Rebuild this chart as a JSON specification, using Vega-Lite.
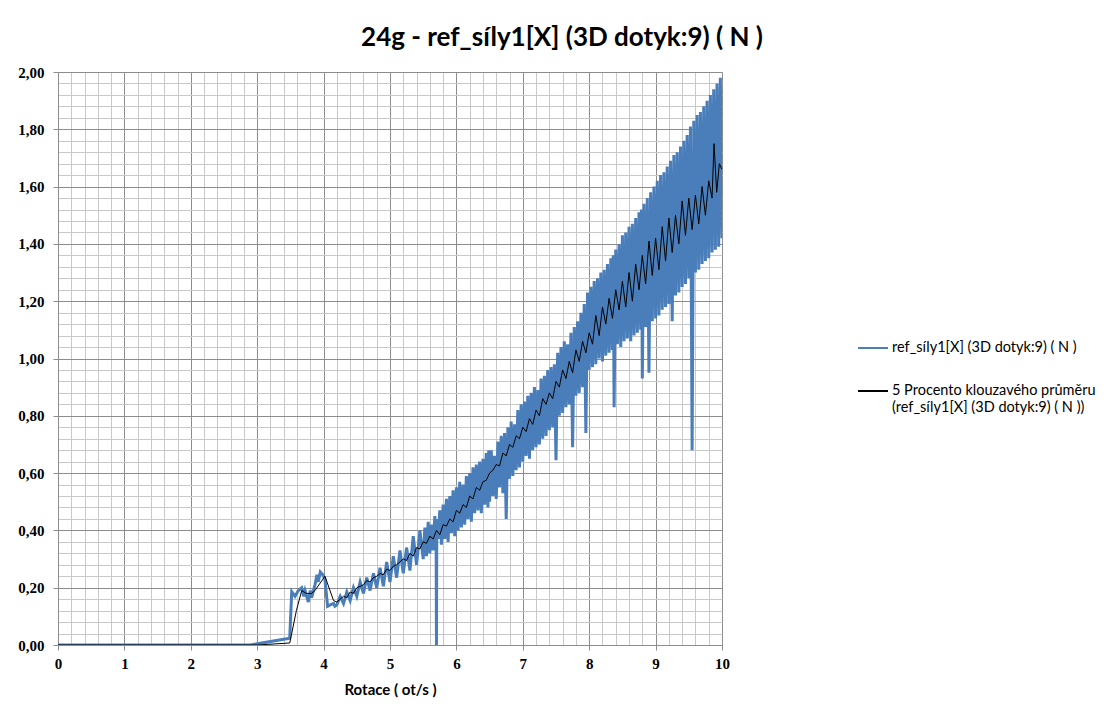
{
  "$schema": "https://vega.github.io/schema/vega-lite/v6.json",
  "width": 664,
  "height": 573,
  "autosize": {"type": "none"},
  "padding": {"left": 58, "top": 72, "right": 387, "bottom": 68},
  "background": "white",
  "config": {"view": {"stroke": null}},
  "title": {
    "text": "24g - ref_síly1[X] (3D dotyk:9) ( N )",
    "font": "Lato",
    "fontSize": 26,
    "fontWeight": "bold",
    "color": "#000000",
    "anchor": "middle",
    "dx": 172,
    "offset": 14
  },
  "datasets": {
    "ref": [
      {"x": 0, "y": 0}, {"x": 2.9, "y": 0}, {"x": 3.49, "y": 0.024}, {"x": 3.52, "y": 0.186}, {"x": 3.57, "y": 0.17},
      {"x": 3.62, "y": 0.19}, {"x": 3.67, "y": 0.2}, {"x": 3.7, "y": 0.17}, {"x": 3.72, "y": 0.19}, {"x": 3.77, "y": 0.15},
      {"x": 3.8, "y": 0.19}, {"x": 3.82, "y": 0.165}, {"x": 3.87, "y": 0.21}, {"x": 3.9, "y": 0.245}, {"x": 3.92, "y": 0.22},
      {"x": 3.95, "y": 0.255}, {"x": 3.99, "y": 0.245}, {"x": 4.02, "y": 0.23}, {"x": 4.06, "y": 0.135}, {"x": 4.1, "y": 0.14},
      {"x": 4.15, "y": 0.145}, {"x": 4.17, "y": 0.135}, {"x": 4.2, "y": 0.14}, {"x": 4.25, "y": 0.17}, {"x": 4.3, "y": 0.145},
      {"x": 4.35, "y": 0.185}, {"x": 4.4, "y": 0.155}, {"x": 4.45, "y": 0.2}, {"x": 4.5, "y": 0.17}, {"x": 4.55, "y": 0.22},
      {"x": 4.6, "y": 0.18}, {"x": 4.65, "y": 0.235}, {"x": 4.7, "y": 0.19}, {"x": 4.75, "y": 0.25}, {"x": 4.8, "y": 0.2},
      {"x": 4.85, "y": 0.27}, {"x": 4.9, "y": 0.205}, {"x": 4.95, "y": 0.29}, {"x": 5.0, "y": 0.22}, {"x": 5.05, "y": 0.31},
      {"x": 5.1, "y": 0.235}, {"x": 5.15, "y": 0.33}, {"x": 5.2, "y": 0.25}, {"x": 5.25, "y": 0.34}, {"x": 5.3, "y": 0.26},
      {"x": 5.35, "y": 0.38}, {"x": 5.4, "y": 0.28}, {"x": 5.45, "y": 0.4}, {"x": 5.5, "y": 0.3}, {"x": 5.525, "y": 0.41},
      {"x": 5.55, "y": 0.31}, {"x": 5.575, "y": 0.43}, {"x": 5.6, "y": 0.32}, {"x": 5.625, "y": 0.42}, {"x": 5.65, "y": 0.33},
      {"x": 5.675, "y": 0.45}, {"x": 5.695, "y": 0.36}, {"x": 5.7, "y": 0.0}, {"x": 5.705, "y": 0.44}, {"x": 5.725, "y": 0.37},
      {"x": 5.75, "y": 0.47}, {"x": 5.775, "y": 0.35}, {"x": 5.8, "y": 0.49}, {"x": 5.825, "y": 0.37}, {"x": 5.85, "y": 0.51},
      {"x": 5.875, "y": 0.36}, {"x": 5.9, "y": 0.52}, {"x": 5.925, "y": 0.39}, {"x": 5.95, "y": 0.54}, {"x": 5.975, "y": 0.38},
      {"x": 6.0, "y": 0.55}, {"x": 6.025, "y": 0.4}, {"x": 6.05, "y": 0.57}, {"x": 6.075, "y": 0.41}, {"x": 6.1, "y": 0.56},
      {"x": 6.125, "y": 0.42}, {"x": 6.15, "y": 0.59}, {"x": 6.175, "y": 0.44}, {"x": 6.2, "y": 0.6}, {"x": 6.225, "y": 0.43},
      {"x": 6.25, "y": 0.62}, {"x": 6.275, "y": 0.46}, {"x": 6.3, "y": 0.63}, {"x": 6.325, "y": 0.47}, {"x": 6.35, "y": 0.64},
      {"x": 6.375, "y": 0.46}, {"x": 6.4, "y": 0.65}, {"x": 6.425, "y": 0.49}, {"x": 6.45, "y": 0.67}, {"x": 6.475, "y": 0.48},
      {"x": 6.487, "y": 0.68}, {"x": 6.5, "y": 0.5}, {"x": 6.525, "y": 0.68}, {"x": 6.55, "y": 0.52}, {"x": 6.575, "y": 0.66},
      {"x": 6.6, "y": 0.51}, {"x": 6.625, "y": 0.71}, {"x": 6.65, "y": 0.55}, {"x": 6.675, "y": 0.73}, {"x": 6.7, "y": 0.53},
      {"x": 6.725, "y": 0.74}, {"x": 6.75, "y": 0.44}, {"x": 6.775, "y": 0.76}, {"x": 6.8, "y": 0.58}, {"x": 6.825, "y": 0.78},
      {"x": 6.85, "y": 0.59}, {"x": 6.875, "y": 0.77}, {"x": 6.9, "y": 0.61}, {"x": 6.925, "y": 0.82}, {"x": 6.95, "y": 0.62},
      {"x": 6.975, "y": 0.84}, {"x": 7.0, "y": 0.64}, {"x": 7.025, "y": 0.85}, {"x": 7.05, "y": 0.66}, {"x": 7.075, "y": 0.87},
      {"x": 7.1, "y": 0.65}, {"x": 7.125, "y": 0.88}, {"x": 7.15, "y": 0.68}, {"x": 7.175, "y": 0.9}, {"x": 7.2, "y": 0.69},
      {"x": 7.225, "y": 0.89}, {"x": 7.25, "y": 0.7}, {"x": 7.275, "y": 0.93}, {"x": 7.3, "y": 0.72}, {"x": 7.325, "y": 0.94},
      {"x": 7.35, "y": 0.73}, {"x": 7.375, "y": 0.96}, {"x": 7.4, "y": 0.75}, {"x": 7.425, "y": 0.97}, {"x": 7.45, "y": 0.76},
      {"x": 7.475, "y": 0.98}, {"x": 7.5, "y": 0.645}, {"x": 7.525, "y": 1.02}, {"x": 7.55, "y": 0.8}, {"x": 7.575, "y": 1.04},
      {"x": 7.6, "y": 0.81}, {"x": 7.625, "y": 1.06}, {"x": 7.65, "y": 0.83}, {"x": 7.675, "y": 1.05}, {"x": 7.7, "y": 0.84},
      {"x": 7.725, "y": 1.09}, {"x": 7.75, "y": 0.69}, {"x": 7.775, "y": 1.11}, {"x": 7.8, "y": 0.87}, {"x": 7.825, "y": 1.13},
      {"x": 7.85, "y": 0.88}, {"x": 7.875, "y": 1.16}, {"x": 7.9, "y": 0.9}, {"x": 7.925, "y": 1.19}, {"x": 7.95, "y": 0.74},
      {"x": 7.975, "y": 1.23}, {"x": 8.0, "y": 0.96}, {"x": 8.025, "y": 1.25}, {"x": 8.05, "y": 0.97}, {"x": 8.075, "y": 1.27},
      {"x": 8.1, "y": 0.98}, {"x": 8.125, "y": 1.28}, {"x": 8.15, "y": 1.0}, {"x": 8.175, "y": 1.3}, {"x": 8.2, "y": 0.99},
      {"x": 8.225, "y": 1.31}, {"x": 8.25, "y": 1.01}, {"x": 8.275, "y": 1.33}, {"x": 8.3, "y": 1.02}, {"x": 8.325, "y": 1.35},
      {"x": 8.35, "y": 1.03}, {"x": 8.362, "y": 1.36}, {"x": 8.375, "y": 0.83}, {"x": 8.4, "y": 1.38}, {"x": 8.425, "y": 1.05},
      {"x": 8.45, "y": 1.4}, {"x": 8.475, "y": 1.04}, {"x": 8.5, "y": 1.43}, {"x": 8.525, "y": 1.06}, {"x": 8.55, "y": 1.44},
      {"x": 8.575, "y": 1.07}, {"x": 8.6, "y": 1.46}, {"x": 8.625, "y": 1.06}, {"x": 8.65, "y": 1.47}, {"x": 8.675, "y": 1.08},
      {"x": 8.7, "y": 1.49}, {"x": 8.725, "y": 1.09}, {"x": 8.75, "y": 1.51}, {"x": 8.775, "y": 1.1}, {"x": 8.787, "y": 1.52},
      {"x": 8.8, "y": 0.93}, {"x": 8.825, "y": 1.54}, {"x": 8.85, "y": 1.11}, {"x": 8.875, "y": 1.56}, {"x": 8.9, "y": 0.95},
      {"x": 8.925, "y": 1.58}, {"x": 8.95, "y": 1.13}, {"x": 8.975, "y": 1.6}, {"x": 9.0, "y": 1.14}, {"x": 9.025, "y": 1.62},
      {"x": 9.05, "y": 1.15}, {"x": 9.075, "y": 1.64}, {"x": 9.1, "y": 1.17}, {"x": 9.125, "y": 1.65}, {"x": 9.15, "y": 1.18},
      {"x": 9.175, "y": 1.67}, {"x": 9.2, "y": 1.19}, {"x": 9.225, "y": 1.69}, {"x": 9.25, "y": 1.13}, {"x": 9.275, "y": 1.71},
      {"x": 9.3, "y": 1.22}, {"x": 9.325, "y": 1.72}, {"x": 9.35, "y": 1.23}, {"x": 9.375, "y": 1.74}, {"x": 9.4, "y": 1.25},
      {"x": 9.425, "y": 1.76}, {"x": 9.45, "y": 1.26}, {"x": 9.475, "y": 1.78}, {"x": 9.5, "y": 1.28}, {"x": 9.525, "y": 1.81},
      {"x": 9.55, "y": 0.68}, {"x": 9.575, "y": 1.83}, {"x": 9.6, "y": 1.3}, {"x": 9.625, "y": 1.85}, {"x": 9.65, "y": 1.31},
      {"x": 9.675, "y": 1.86}, {"x": 9.7, "y": 1.33}, {"x": 9.725, "y": 1.88}, {"x": 9.75, "y": 1.34}, {"x": 9.775, "y": 1.9},
      {"x": 9.8, "y": 1.35}, {"x": 9.825, "y": 1.92}, {"x": 9.85, "y": 1.37}, {"x": 9.875, "y": 1.94}, {"x": 9.9, "y": 1.38},
      {"x": 9.925, "y": 1.96}, {"x": 9.95, "y": 1.39}, {"x": 9.975, "y": 1.98}, {"x": 10.0, "y": 1.42}
    ],
    "avg": [
      {"x": 0, "y": 0}, {"x": 3.0, "y": 0}, {"x": 3.49, "y": 0.007}, {"x": 3.59, "y": 0.12}, {"x": 3.67, "y": 0.19},
      {"x": 3.74, "y": 0.18}, {"x": 3.82, "y": 0.18}, {"x": 3.87, "y": 0.19}, {"x": 4.02, "y": 0.24}, {"x": 4.15, "y": 0.155},
      {"x": 4.2, "y": 0.15}, {"x": 4.25, "y": 0.16}, {"x": 4.3, "y": 0.17}, {"x": 4.35, "y": 0.165}, {"x": 4.4, "y": 0.185},
      {"x": 4.45, "y": 0.18}, {"x": 4.5, "y": 0.2}, {"x": 4.55, "y": 0.205}, {"x": 4.6, "y": 0.21}, {"x": 4.65, "y": 0.225},
      {"x": 4.7, "y": 0.22}, {"x": 4.75, "y": 0.235}, {"x": 4.8, "y": 0.24}, {"x": 4.85, "y": 0.25}, {"x": 4.9, "y": 0.245},
      {"x": 4.95, "y": 0.265}, {"x": 5.0, "y": 0.26}, {"x": 5.05, "y": 0.275}, {"x": 5.1, "y": 0.28}, {"x": 5.15, "y": 0.29},
      {"x": 5.2, "y": 0.3}, {"x": 5.25, "y": 0.295}, {"x": 5.3, "y": 0.32}, {"x": 5.35, "y": 0.31}, {"x": 5.4, "y": 0.34},
      {"x": 5.45, "y": 0.335}, {"x": 5.5, "y": 0.36}, {"x": 5.55, "y": 0.355}, {"x": 5.6, "y": 0.38}, {"x": 5.65, "y": 0.37},
      {"x": 5.7, "y": 0.4}, {"x": 5.75, "y": 0.385}, {"x": 5.8, "y": 0.42}, {"x": 5.85, "y": 0.415}, {"x": 5.9, "y": 0.44},
      {"x": 5.95, "y": 0.43}, {"x": 6.0, "y": 0.47}, {"x": 6.05, "y": 0.46}, {"x": 6.1, "y": 0.49}, {"x": 6.15, "y": 0.48},
      {"x": 6.2, "y": 0.52}, {"x": 6.25, "y": 0.51}, {"x": 6.3, "y": 0.55}, {"x": 6.35, "y": 0.54}, {"x": 6.4, "y": 0.57},
      {"x": 6.45, "y": 0.575}, {"x": 6.5, "y": 0.6}, {"x": 6.55, "y": 0.61}, {"x": 6.6, "y": 0.63}, {"x": 6.65, "y": 0.625},
      {"x": 6.7, "y": 0.67}, {"x": 6.75, "y": 0.66}, {"x": 6.8, "y": 0.7}, {"x": 6.85, "y": 0.69}, {"x": 6.9, "y": 0.73},
      {"x": 6.95, "y": 0.72}, {"x": 7.0, "y": 0.76}, {"x": 7.05, "y": 0.745}, {"x": 7.1, "y": 0.79}, {"x": 7.15, "y": 0.77},
      {"x": 7.2, "y": 0.82}, {"x": 7.25, "y": 0.8}, {"x": 7.3, "y": 0.86}, {"x": 7.35, "y": 0.84}, {"x": 7.4, "y": 0.88},
      {"x": 7.45, "y": 0.86}, {"x": 7.5, "y": 0.92}, {"x": 7.55, "y": 0.9}, {"x": 7.6, "y": 0.96}, {"x": 7.65, "y": 0.93},
      {"x": 7.7, "y": 0.99}, {"x": 7.75, "y": 0.95}, {"x": 7.8, "y": 1.03}, {"x": 7.85, "y": 0.99}, {"x": 7.9, "y": 1.06},
      {"x": 7.95, "y": 1.02}, {"x": 8.0, "y": 1.09}, {"x": 8.05, "y": 1.05}, {"x": 8.1, "y": 1.15}, {"x": 8.15, "y": 1.08},
      {"x": 8.2, "y": 1.18}, {"x": 8.25, "y": 1.12}, {"x": 8.3, "y": 1.21}, {"x": 8.35, "y": 1.14}, {"x": 8.4, "y": 1.24},
      {"x": 8.45, "y": 1.17}, {"x": 8.5, "y": 1.27}, {"x": 8.55, "y": 1.18}, {"x": 8.6, "y": 1.3}, {"x": 8.65, "y": 1.2},
      {"x": 8.7, "y": 1.33}, {"x": 8.75, "y": 1.24}, {"x": 8.8, "y": 1.36}, {"x": 8.85, "y": 1.26}, {"x": 8.9, "y": 1.41},
      {"x": 8.95, "y": 1.29}, {"x": 9.0, "y": 1.42}, {"x": 9.05, "y": 1.31}, {"x": 9.1, "y": 1.46}, {"x": 9.15, "y": 1.34},
      {"x": 9.2, "y": 1.49}, {"x": 9.25, "y": 1.37}, {"x": 9.3, "y": 1.5}, {"x": 9.35, "y": 1.4}, {"x": 9.4, "y": 1.55},
      {"x": 9.45, "y": 1.43}, {"x": 9.5, "y": 1.56}, {"x": 9.55, "y": 1.45}, {"x": 9.6, "y": 1.57}, {"x": 9.65, "y": 1.47},
      {"x": 9.7, "y": 1.6}, {"x": 9.75, "y": 1.5}, {"x": 9.8, "y": 1.62}, {"x": 9.85, "y": 1.56}, {"x": 9.88, "y": 1.75},
      {"x": 9.92, "y": 1.58}, {"x": 9.96, "y": 1.68}, {"x": 10.0, "y": 1.66}
    ]
  },
  "encoding": {
    "x": {
      "field": "x", "type": "quantitative",
      "scale": {"domain": [0, 10], "nice": false, "zero": false},
      "axis": {
        "values": [0, 0.2, 0.4, 0.6, 0.8, 1, 1.2, 1.4, 1.6, 1.8, 2, 2.2, 2.4, 2.6, 2.8, 3, 3.2, 3.4, 3.6, 3.8, 4, 4.2, 4.4, 4.6, 4.8, 5, 5.2, 5.4, 5.6, 5.8, 6, 6.2, 6.4, 6.6, 6.8, 7, 7.2, 7.4, 7.6, 7.8, 8, 8.2, 8.4, 8.6, 8.8, 9, 9.2, 9.4, 9.6, 9.8, 10],
        "labelExpr": "abs(datum.value - round(datum.value)) < 0.001 ? format(datum.value, 'd') : ''",
        "labelOverlap": false,
        "grid": true,
        "gridColor": {"condition": {"test": "abs(datum.value - round(datum.value)) < 0.001", "value": "#8C8C8C"}, "value": "#C8C8C8"},
        "gridWidth": 1,
        "domain": true, "domainColor": "#8C8C8C",
        "ticks": true, "tickColor": "#8C8C8C", "tickSize": 5,
        "tickOpacity": {"condition": {"test": "abs(datum.value - round(datum.value)) < 0.001", "value": 1}, "value": 0},
        "labelFont": "Liberation Serif", "labelFontSize": 15, "labelFontWeight": "bold", "labelColor": "#000000",
        "labelPadding": 6, "labelFlush": false,
        "title": "Rotace ( ot/s )", "titleFont": "Lato", "titleFontSize": 15, "titleFontWeight": "bold",
        "titleColor": "#000000", "titlePadding": 11
      }
    },
    "y": {
      "field": "y", "type": "quantitative",
      "scale": {"domain": [0, 2], "nice": false},
      "axis": {
        "values": [0, 0.04, 0.08, 0.12, 0.16, 0.2, 0.24, 0.28, 0.32, 0.36, 0.4, 0.44, 0.48, 0.52, 0.56, 0.6, 0.64, 0.68, 0.72, 0.76, 0.8, 0.84, 0.88, 0.92, 0.96, 1, 1.04, 1.08, 1.12, 1.16, 1.2, 1.24, 1.28, 1.32, 1.36, 1.4, 1.44, 1.48, 1.52, 1.56, 1.6, 1.64, 1.68, 1.72, 1.76, 1.8, 1.84, 1.88, 1.92, 1.96, 2],
        "labelExpr": "abs(datum.value * 5 - round(datum.value * 5)) < 0.001 ? replace(format(datum.value, '.2f'), '.', ',') : ''",
        "labelOverlap": false,
        "grid": true,
        "gridColor": {"condition": {"test": "abs(datum.value * 5 - round(datum.value * 5)) < 0.001", "value": "#8C8C8C"}, "value": "#C8C8C8"},
        "gridWidth": 1,
        "domain": true, "domainColor": "#8C8C8C",
        "ticks": true, "tickColor": "#8C8C8C", "tickSize": 5,
        "tickOpacity": {"condition": {"test": "abs(datum.value * 5 - round(datum.value * 5)) < 0.001", "value": 1}, "value": 0},
        "labelFont": "Liberation Serif", "labelFontSize": 15, "labelFontWeight": "bold", "labelColor": "#000000",
        "labelPadding": 9,
        "title": null
      }
    },
    "color": {
      "type": "nominal",
      "scale": {
        "domain": ["ref_síly1[X] (3D dotyk:9) ( N )", "5 Procento klouzavého průměru (ref_síly1[X] (3D dotyk:9) ( N ))"],
        "range": ["#4A7EBB", "#000000"]
      },
      "legend": {
        "title": null,
        "orient": "none",
        "legendX": 799,
        "legendY": 260,
        "padding": 0,
        "symbolType": "stroke",
        "symbolSize": 900,
        "symbolStrokeWidth": 2,
        "labelFont": "Lato",
        "labelFontSize": 14.5,
        "labelColor": "#000000",
        "labelLimit": 400,
        "labelOffset": 3,
        "rowPadding": 20,
        "labelExpr": "length(datum.label) > 40 ? ['5 Procento klouzavého průměru', '(ref_síly1[X] (3D dotyk:9) ( N ))'] : datum.label"
      }
    }
  },
  "layer": [
    {
      "data": {"name": "ref"},
      "mark": {"type": "line", "strokeWidth": 3, "clip": true},
      "encoding": {
        "color": {"datum": "ref_síly1[X] (3D dotyk:9) ( N )"}
      }
    },
    {
      "data": {"name": "avg"},
      "mark": {"type": "line", "strokeWidth": 1, "clip": true},
      "encoding": {
        "color": {"datum": "5 Procento klouzavého průměru (ref_síly1[X] (3D dotyk:9) ( N ))"}
      }
    }
  ]
}
